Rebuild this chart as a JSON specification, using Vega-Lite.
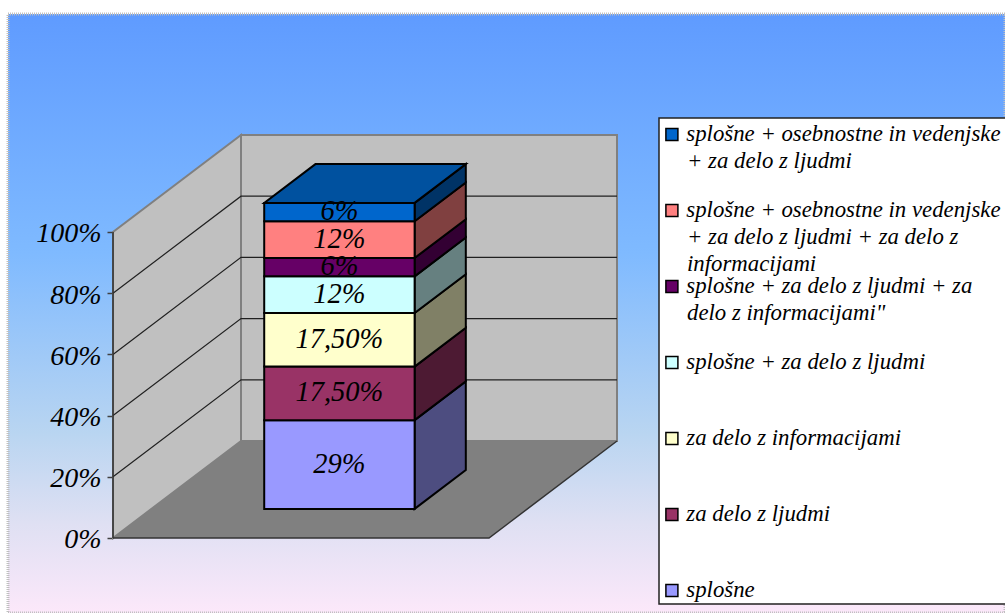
{
  "$schema": "https://vega.github.io/schema/vega-lite/v6.json",
  "width": 997,
  "height": 599,
  "autosize": {"type": "none"},
  "padding": {"left": 8, "top": 14, "right": 0, "bottom": 0},
  "background": "white",
  "view": {
    "fill": {
      "x1": 0, "y1": 0, "x2": 0, "y2": 1, "gradient": "linear",
      "stops": [
        {"offset": 0, "color": "#5f9bff"},
        {"offset": 0.4, "color": "#7fbaff"},
        {"offset": 0.7, "color": "#b9d5f1"},
        {"offset": 0.85, "color": "#dfe0f3"},
        {"offset": 1, "color": "#fce8fa"}
      ]
    },
    "stroke": "#c0c0c0",
    "strokeWidth": 3,
    "strokeDash": [1, 1]
  },
  "config": {"text": {"font": "Liberation Serif"}},
  "datasets": {
    "segments": [
      {"order": 1, "series": "splošne", "value": 29, "share": "29%"},
      {"order": 2, "series": "za delo z ljudmi", "value": 17.5, "share": "17,50%"},
      {"order": 3, "series": "za delo z informacijami", "value": 17.5, "share": "17,50%"},
      {"order": 4, "series": "splošne + za delo z ljudmi", "value": 12, "share": "12%"},
      {"order": 5, "series": "splošne + za delo z ljudmi + za|delo z informacijami\"", "value": 6, "share": "6%"},
      {"order": 6, "series": "splošne + osebnostne in vedenjske|+ za delo z ljudmi + za delo z|informacijami", "value": 12, "share": "12%"},
      {"order": 7, "series": "splošne + osebnostne in vedenjske|+ za delo z ljudmi", "value": 6, "share": "6%"}
    ]
  },
  "encoding": {
    "x": {
      "field": "sx", "type": "quantitative", "axis": null,
      "scale": {"domain": [-0.2793, 2.3723], "nice": false, "zero": false}
    },
    "y": {
      "field": "sy", "type": "quantitative", "title": null,
      "scale": {"domain": [-24.51, 171.24], "nice": false, "zero": false},
      "axis": {
        "offset": -105, "domain": false, "grid": false,
        "values": [0, 20, 40, 60, 80, 100],
        "labelExpr": "datum.value + '%'",
        "labelFont": "Liberation Serif", "labelFontStyle": "italic", "labelFontSize": 28,
        "labelColor": "black", "labelPadding": 6, "labelOverlap": false, "labelFlush": false, "labelOffset": 2,
        "tickColor": "#404040", "tickSize": 6, "tickWidth": 1.5
      }
    }
  },
  "layer": [
    {
      "description": "White panel behind the legend; its right edge runs past the window",
      "data": {"values": [{"sx": 1.4521, "ex": 2.39, "sy": -21.57, "ey": 137.25}]},
      "mark": {"type": "rect", "fill": "white", "stroke": "#222222", "strokeWidth": 1.5},
      "encoding": {"x2": {"field": "ex"}, "y2": {"field": "ey"}}
    },
    {
      "description": "Chart floor",
      "data": {"values": [{"depth": 0}, {"depth": 1}]},
      "transform": [
        {"calculate": "0.3404 * datum.depth", "as": "sx"},
        {"calculate": "1 + 0.3404 * datum.depth", "as": "ex"},
        {"calculate": "31.7 * datum.depth", "as": "sy"}
      ],
      "mark": {"type": "area", "orient": "horizontal", "fill": "#808080"},
      "encoding": {"x2": {"field": "ex"}}
    },
    {
      "description": "Back wall and side wall",
      "data": {"values": [
        {"wall": "back", "across": 0, "depth": 1},
        {"wall": "back", "across": 1, "depth": 1},
        {"wall": "side", "across": 0, "depth": 0},
        {"wall": "side", "across": 0, "depth": 1}
      ]},
      "transform": [
        {"calculate": "datum.across + 0.3404 * datum.depth", "as": "sx"},
        {"calculate": "31.7 * datum.depth", "as": "sy"},
        {"calculate": "100 + 31.7 * datum.depth", "as": "ey"}
      ],
      "mark": {"type": "area", "orient": "vertical", "fill": "#c0c0c0", "stroke": "#808080", "strokeWidth": 2},
      "encoding": {"y2": {"field": "ey"}, "detail": {"field": "wall"}}
    },
    {
      "description": "Gridlines running along the side wall and across the back wall",
      "data": {"values": [
        {"level": 20, "across": 0, "depth": 0}, {"level": 20, "across": 0, "depth": 1}, {"level": 20, "across": 1, "depth": 1},
        {"level": 40, "across": 0, "depth": 0}, {"level": 40, "across": 0, "depth": 1}, {"level": 40, "across": 1, "depth": 1},
        {"level": 60, "across": 0, "depth": 0}, {"level": 60, "across": 0, "depth": 1}, {"level": 60, "across": 1, "depth": 1},
        {"level": 80, "across": 0, "depth": 0}, {"level": 80, "across": 0, "depth": 1}, {"level": 80, "across": 1, "depth": 1}
      ]},
      "transform": [
        {"calculate": "datum.across + 0.3404 * datum.depth", "as": "sx"},
        {"calculate": "datum.level + 31.7 * datum.depth", "as": "sy"}
      ],
      "mark": {"type": "line", "color": "#202020", "strokeWidth": 1.2},
      "encoding": {"detail": {"field": "level"}}
    },
    {
      "description": "Value axis line and floor edges",
      "data": {"values": [
        {"edge": "axis", "across": 0, "depth": 0, "level": 0},
        {"edge": "axis", "across": 0, "depth": 0, "level": 100},
        {"edge": "floor", "across": 0, "depth": 0, "level": 0},
        {"edge": "floor", "across": 1, "depth": 0, "level": 0},
        {"edge": "floor", "across": 1, "depth": 1, "level": 0}
      ]},
      "transform": [
        {"calculate": "datum.across + 0.3404 * datum.depth", "as": "sx"},
        {"calculate": "datum.level + 31.7 * datum.depth", "as": "sy"}
      ],
      "mark": {"type": "line", "color": "#333333", "strokeWidth": 1.5},
      "encoding": {"detail": {"field": "edge"}}
    },
    {
      "description": "Side faces of the stacked column",
      "data": {"name": "segments"},
      "transform": [
        {"stack": "value", "groupby": [], "sort": [{"field": "order", "order": "ascending"}], "as": ["v0", "v1"]},
        {"calculate": "[0.3, 0.7]", "as": "depth"},
        {"flatten": ["depth"]},
        {"calculate": "0.7 + 0.3404 * datum.depth", "as": "sx"},
        {"calculate": "datum.v0 + 31.7 * datum.depth", "as": "sy"},
        {"calculate": "datum.v1 + 31.7 * datum.depth", "as": "ey"}
      ],
      "mark": {"type": "area", "orient": "vertical", "stroke": "black", "strokeWidth": 2},
      "encoding": {
        "y2": {"field": "ey"},
        "fill": {
          "field": "order", "type": "nominal", "legend": null,
          "scale": {"domain": [1, 2, 3, 4, 5, 6, 7], "range": ["#4d4d80", "#4d1a33", "#808066", "#668080", "#330033", "#804040", "#003366"]}
        }
      }
    },
    {
      "description": "Top face of the stacked column",
      "data": {"values": [{"depth": 0.3}, {"depth": 0.7}]},
      "transform": [
        {"calculate": "0.3 + 0.3404 * datum.depth", "as": "sx"},
        {"calculate": "0.7 + 0.3404 * datum.depth", "as": "ex"},
        {"calculate": "100 + 31.7 * datum.depth", "as": "sy"}
      ],
      "mark": {"type": "area", "orient": "horizontal", "fill": "#00519f", "stroke": "black", "strokeWidth": 2},
      "encoding": {"x2": {"field": "ex"}}
    },
    {
      "description": "Front faces of the stacked column, with the legend showing each entry's first line",
      "data": {"name": "segments"},
      "transform": [
        {"stack": "value", "groupby": [], "sort": [{"field": "order", "order": "ascending"}], "as": ["v0", "v1"]},
        {"calculate": "0.3 + 0.3404 * 0.3", "as": "sx"},
        {"calculate": "0.7 + 0.3404 * 0.3", "as": "ex"},
        {"calculate": "datum.v0 + 31.7 * 0.3", "as": "sy"},
        {"calculate": "datum.v1 + 31.7 * 0.3", "as": "ey"}
      ],
      "mark": {"type": "rect", "stroke": "black", "strokeWidth": 2},
      "encoding": {
        "x2": {"field": "ex"},
        "y2": {"field": "ey"},
        "color": {
          "field": "series", "type": "nominal",
          "scale": {
            "domain": [
              "splošne + osebnostne in vedenjske|+ za delo z ljudmi",
              "splošne + osebnostne in vedenjske|+ za delo z ljudmi + za delo z|informacijami",
              "splošne + za delo z ljudmi + za|delo z informacijami\"",
              "splošne + za delo z ljudmi",
              "za delo z informacijami",
              "za delo z ljudmi",
              "splošne"
            ],
            "range": ["#0066cc", "#ff8080", "#660066", "#ccffff", "#ffffcc", "#993366", "#9999ff"]
          },
          "legend": {
            "orient": "none", "legendX": 651, "legendY": 104, "title": null,
            "padding": 5,
            "symbolType": "square", "symbolSize": 144, "symbolStrokeColor": "black", "symbolStrokeWidth": 1.5,
            "symbolOpacity": 1, "symbolOffset": -3.5, "rowPadding": 52, "labelOffset": 3,
            "labelFont": "Liberation Serif", "labelFontStyle": "italic", "labelFontSize": 22.8, "labelColor": "black",
            "labelLimit": 400, "labelExpr": "split(datum.label, '|')[0]"
          }
        }
      }
    },
    {
      "description": "Share printed on each front face",
      "data": {"name": "segments"},
      "transform": [
        {"stack": "value", "groupby": [], "sort": [{"field": "order", "order": "ascending"}], "as": ["v0", "v1"]},
        {"calculate": "0.5 + 0.3404 * 0.3", "as": "sx"},
        {"calculate": "(datum.v0 + datum.v1) / 2 + 31.7 * 0.3", "as": "sy"}
      ],
      "mark": {"type": "text", "font": "Liberation Serif", "fontStyle": "italic", "fontSize": 28.5, "color": "black", "baseline": "middle", "dy": -1},
      "encoding": {"text": {"field": "share"}}
    },
    {
      "description": "Wrapped continuation lines of the long legend entries, by entry and line number",
      "data": {"values": [
        {"entry": 0, "line": 1, "text": "+ za delo z ljudmi"},
        {"entry": 1, "line": 1, "text": "+ za delo z ljudmi + za delo z"},
        {"entry": 1, "line": 2, "text": "informacijami"},
        {"entry": 2, "line": 1, "text": "delo z informacijami\""}
      ]},
      "transform": [
        {"calculate": "1.5266", "as": "sx"},
        {"calculate": "(538 - 134 - 76 * datum.entry - 27 * datum.line) / 3.06", "as": "sy"}
      ],
      "mark": {"type": "text", "font": "Liberation Serif", "fontStyle": "italic", "fontSize": 22.8, "color": "black", "align": "left", "baseline": "middle"},
      "encoding": {"text": {"field": "text"}}
    }
  ],
  "resolve": {"scale": {"fill": "independent", "color": "independent"}}
}
